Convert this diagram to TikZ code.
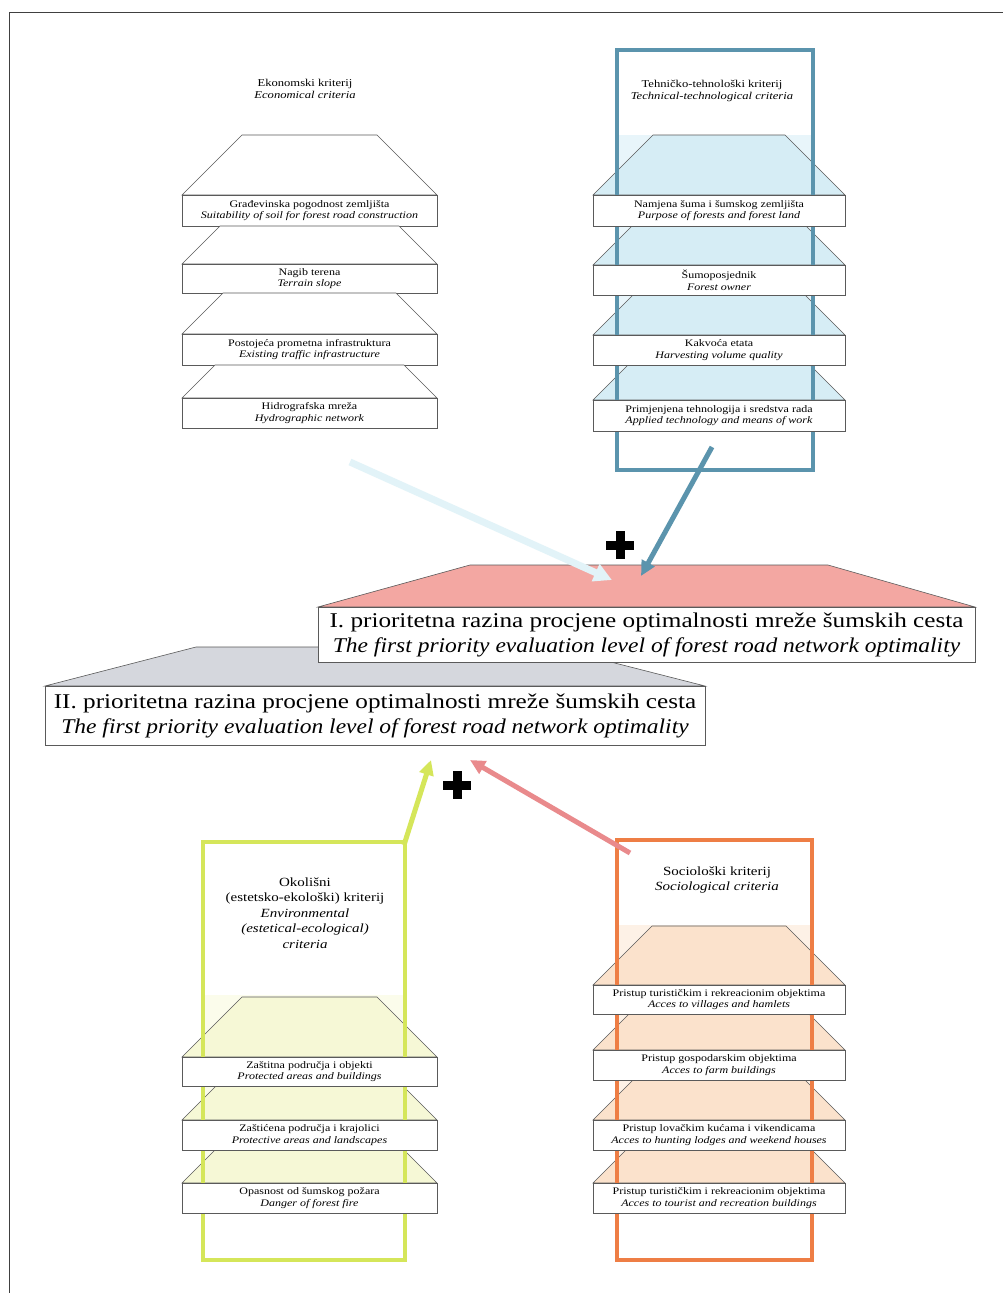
\documentclass[tikz,border=0pt]{standalone}
\usepackage{fontspec}
\setmainfont{Liberation Serif}[FakeStretch=1.2]
\newfontfamily\bigitfont{Liberation Serif}[FakeStretch=1.12]
\usetikzlibrary{arrows.meta}
\definecolor{blueC}{HTML}{5B94AD}
\definecolor{blueFill}{HTML}{D6EDF5}
\definecolor{blueIn}{HTML}{E8F5FA}
\definecolor{greenC}{HTML}{D5E65A}
\definecolor{greenFill}{HTML}{F6F8D6}
\definecolor{greenIn}{HTML}{FBFCEB}
\definecolor{orangeC}{HTML}{EE7E45}
\definecolor{orangeFill}{HTML}{FBE2CC}
\definecolor{orangeIn}{HTML}{FDF1E6}
\definecolor{pinkC}{HTML}{E98A8C}
\definecolor{pinkFill}{HTML}{F3A7A2}
\definecolor{greyFill}{HTML}{D5D7DD}
\definecolor{cyanPale}{HTML}{E2F3F8}
\definecolor{lineC}{HTML}{5A5A5A}
\tikzset{
  trapst/.style={draw=lineC, line width=0.6pt},
  subbox/.style={draw=lineC, fill=white, line width=0.9pt, inner sep=0pt, align=center,
    font=\fontsize{10}{11.5}\selectfont},
  toptitle/.style={align=center, inner sep=0pt, font=\fontsize{10.5}{12.5}\selectfont},
  bottitle/.style={align=center, inner sep=0pt, font=\fontsize{12.5}{15.5}\selectfont},
  bigbox/.style={draw=lineC, fill=white, line width=0.8pt, inner sep=0pt, align=center,
    font=\fontsize{21}{25}\selectfont},
  crect/.style={line width=3.5pt, inner sep=0pt},
  thickarrow/.style={line width=5pt, -{Triangle[length=15pt,width=14pt]}},
}
\newcommand\trapz[5]{\filldraw[trapst,#1] ({#2+#5-#4},#4) -- ({#3-#5+#4},#4) -- (#3,#5) -- (#2,#5) -- cycle;}
\newcommand\subb[7]{\node[subbox, minimum width={#3-#2}, minimum height={#5-#4}] (#1) at ({(#2+#3)/2},{(#4+#5)/2}) {#6\\\textit{#7}};}
\newcommand\plussign[3]{\node[fill=black, minimum width=28pt, minimum height=9pt, inner sep=0pt] (#1h) at (#2,#3) {};
  \node[fill=black, minimum width=9pt, minimum height=28pt, inner sep=0pt] (#1v) at (#2,#3) {};}
\begin{document}
\begin{tikzpicture}[x=1pt,y=-1pt]
\useasboundingbox (0,0) rectangle (1003,1293);
\fill[white] (0,0) rectangle (1003,1293);
% frame
\draw[line width=1pt, black!75] (1003,12) -- (9,12) -- (9,1293);

% ===== Economic block =====
\node[toptitle] (ectitle) at (305,89) {Ekonomski kriterij\\\textit{Economical criteria}};
\trapz{fill=white}{182}{437}{135}{195}
\subb{e1}{182}{437}{195}{226}{Građevinska pogodnost zemljišta}{Suitability of soil for forest road construction}
\trapz{fill=white}{182}{437}{226}{264}
\subb{e2}{182}{437}{264}{293}{Nagib terena}{Terrain slope}
\trapz{fill=white}{182}{437}{293}{334}
\subb{e3}{182}{437}{334}{365}{Postojeća prometna infrastruktura}{Existing traffic infrastructure}
\trapz{fill=white}{182}{437}{365}{398}
\subb{e4}{182}{437}{398}{428}{Hidrografska mreža}{Hydrographic network}

% ===== Technical block =====
\fill[blueIn] (617,135) rectangle (813,431);
\node[toptitle] (tetitle) at (712,91) {Tehničko-tehnološki kriterij\\\textit{Technical-technological criteria}};
\trapz{fill=blueFill}{593}{845}{135}{195}
\trapz{fill=blueFill}{593}{845}{226}{265}
\trapz{fill=blueFill}{593}{845}{295}{335}
\trapz{fill=blueFill}{593}{845}{365}{400}
\node[crect, draw=blueC, minimum width=196pt, minimum height=420pt] (terect) at (715,260) {};
\subb{t1}{593}{845}{195}{226}{Namjena šuma i šumskog zemljišta}{Purpose of forests and forest land}
\subb{t2}{593}{845}{265}{295}{Šumoposjednik}{Forest owner}
\subb{t3}{593}{845}{335}{365}{Kakvoća etata}{Harvesting volume quality}
\subb{t4}{593}{845}{400}{431}{Primjenjena tehnologija i sredstva rada}{Applied technology and means of work}

% ===== Level II (grey) and Level I (pink) =====
\filldraw[trapst, fill=greyFill] (196,647) -- (552,647) -- (705,686) -- (45,686) -- cycle;
\filldraw[trapst, fill=pinkFill] (470,565) -- (828,565) -- (975,607) -- (318,607) -- cycle;
\node[bigbox, minimum width=657pt, minimum height=55pt] (lev1) at (646.5,634.5)
  {I. prioritetna razina procjene optimalnosti mreže šumskih cesta\\{\bigitfont\itshape The first priority evaluation level of forest road network optimality}};
\node[bigbox, minimum width=660pt, minimum height=59pt] (lev2) at (375,715.5)
  {II. prioritetna razina procjene optimalnosti mreže šumskih cesta\\{\bigitfont\itshape The first priority evaluation level of forest road network optimality}};

% top arrows
\coordinate (ecstart) at (350,462);
\coordinate (ectip) at (612,580);
\draw[thickarrow, line width=7pt, cyanPale, -{Triangle[length=18pt,width=18pt]}] (ecstart) -- (ectip);
\coordinate (testart) at (712,447);
\coordinate (tetip) at (641,576);
\draw[thickarrow, blueC] (testart) -- (tetip);
\plussign{plusA}{620}{545}

% ===== Environmental block =====
\fill[greenIn] (203,995) rectangle (405,1213);
\node[bottitle] (entitle) at (305,913) {Okolišni\\(estetsko-ekološki) kriterij\\\textit{Environmental}\\\textit{(estetical-ecological)}\\\textit{criteria}};
\trapz{fill=greenFill}{182}{437}{997}{1057}
\trapz{fill=greenFill}{182}{437}{1086}{1120}
\trapz{fill=greenFill}{182}{437}{1150}{1183}
\node[crect, draw=greenC, minimum width=202pt, minimum height=418pt] (enrect) at (304,1051) {};
\subb{n1}{182}{437}{1057}{1086}{Zaštitna područja i objekti}{Protected areas and buildings}
\subb{n2}{182}{437}{1120}{1150}{Zaštićena područja i krajolici}{Protective areas and landscapes}
\subb{n3}{182}{437}{1183}{1213}{Opasnost od šumskog požara}{Danger of forest fire}

% ===== Sociological block =====
\fill[orangeIn] (617,925) rectangle (812,1213);
\node[bottitle] (sotitle) at (717,880) {Sociološki kriterij\\\textit{Sociological criteria}};
\trapz{fill=orangeFill}{593}{845}{926}{985}
\trapz{fill=orangeFill}{593}{845}{1014}{1050}
\trapz{fill=orangeFill}{593}{845}{1080}{1120}
\trapz{fill=orangeFill}{593}{845}{1150}{1183}
\node[crect, draw=orangeC, minimum width=195pt, minimum height=420pt] (sorect) at (714.5,1050) {};
\subb{s1}{593}{845}{985}{1014}{Pristup turističkim i rekreacionim objektima}{Acces to villages and hamlets}
\subb{s2}{593}{845}{1050}{1080}{Pristup gospodarskim objektima}{Acces to farm buildings}
\subb{s3}{593}{845}{1120}{1150}{Pristup lovačkim kućama i vikendicama}{Acces to hunting lodges and weekend houses}
\subb{s4}{593}{845}{1183}{1213}{Pristup turističkim i rekreacionim objektima}{Acces to tourist and recreation buildings}

% bottom arrows
\coordinate (enstart) at (404,845);
\coordinate (entip) at (431,760);
\draw[thickarrow, greenC] (enstart) -- (entip);
\coordinate (sostart) at (630,853);
\coordinate (sotip) at (470,760);
\draw[thickarrow, pinkC] (sostart) -- (sotip);
\plussign{plusB}{457}{785}
\end{tikzpicture}
\end{document}
